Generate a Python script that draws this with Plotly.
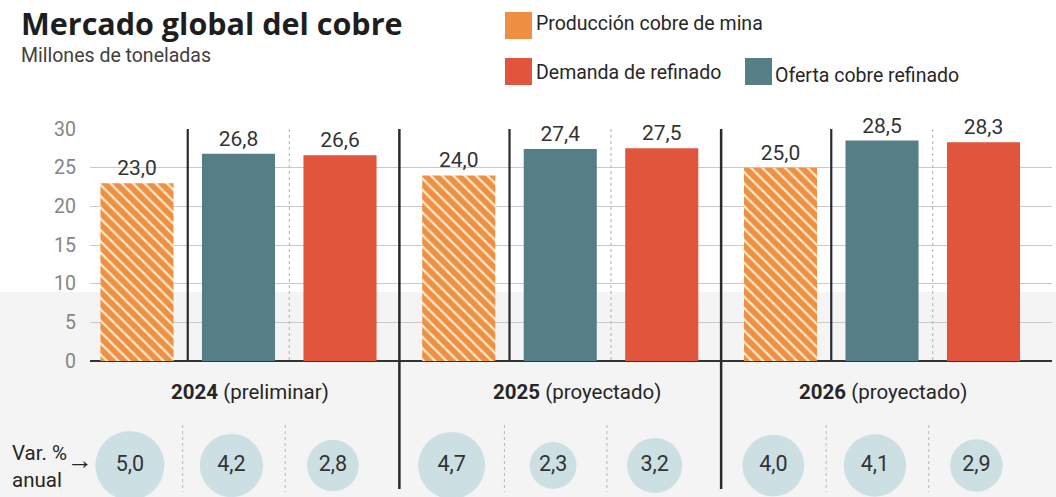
import plotly.graph_objects as go

# ---------------- data ----------------
years = ["2024", "2025", "2026"]
year_notes = ["(preliminar)", "(proyectado)", "(proyectado)"]
series_names = ["Producción cobre de mina", "Oferta cobre refinado", "Demanda de refinado"]
produccion_mina = [23.0, 24.0, 25.0]
oferta_refinado = [26.8, 27.4, 28.5]
demanda_refinado = [26.6, 27.5, 28.3]
var_produccion = [5.0, 4.7, 4.0]
var_oferta = [4.2, 2.3, 4.1]
var_demanda = [2.8, 3.2, 2.9]
y_ticks = [0, 5, 10, 15, 20, 25, 30]

# ---------------- styling ----------------
W, H = 1056, 497
FONT = "Roboto"
TITLE_FONT = "Open Sans"
ORANGE = "#ee8f44"
STRIPE = "#fde9c6"
TEAL = "#567e87"
RED = "#e0553b"
BUBBLE = "#bbd6db"
TXT = "#262626"
GROUP_STEP = 3.17
BAR_W = 0.72


def px_x(p):
    return p / W


def px_y(p):
    return 1 - p / H


def fmt(v):
    return f"{v:.1f}".replace(".", ",")


def pos(g, s):
    return g * GROUP_STEP + s


series_vals = [produccion_mina, oferta_refinado, demanda_refinado]
series_vars = [var_produccion, var_oferta, var_demanda]
colors = [ORANGE, TEAL, RED]

fig = go.Figure()

for s, (name, vals, col) in enumerate(zip(series_names, series_vals, colors)):
    marker = dict(color=col, line=dict(width=0))
    if s == 0:
        marker["pattern"] = dict(shape="\\", fgcolor=STRIPE, bgcolor=ORANGE,
                                 size=8, solidity=0.28, fillmode="replace")
    fig.add_trace(go.Bar(
        x=[pos(g, s) for g in range(len(years))], y=vals, width=BAR_W,
        marker=marker, name=name, showlegend=False,
        text=[fmt(v) for v in vals], textposition="outside",
        textfont=dict(family=FONT, size=21, color="#333333"),
        cliponaxis=False, hoverinfo="skip",
    ))

# bubbles for annual variation (area proportional to value)
bx, bv = [], []
for g in range(len(years)):
    for s in range(3):
        bx.append(pos(g, s) - 0.07)
        bv.append(series_vars[s][g])
fig.add_trace(go.Scatter(
    x=bx, y=[0.5] * len(bx), yaxis="y2", mode="markers+text",
    marker=dict(size=bv, sizemode="area", sizeref=2 * 5 / 69 ** 2, color=BUBBLE,
                line=dict(width=0)),
    text=[fmt(v) for v in bv], textposition="middle center",
    textfont=dict(family=FONT, size=21.5, color="#333333"),
    showlegend=False, hoverinfo="skip", cliponaxis=False,
))

x_min = -47 / 101.5
x_max = x_min + 962 / 101.5

fig.update_layout(
    width=W, height=H,
    margin=dict(l=0, r=0, t=0, b=0, autoexpand=False),
    paper_bgcolor="white", plot_bgcolor="rgba(0,0,0,0)",
    barmode="overlay", showlegend=False, hovermode=False,
    xaxis=dict(domain=[px_x(90), px_x(1052)], range=[x_min, x_max],
               showgrid=False, zeroline=False, showticklabels=False,
               ticks="", fixedrange=True, automargin=False),
    yaxis=dict(domain=[px_y(361), px_y(129)], range=[0, 30],
               tickvals=y_ticks, showgrid=True, gridcolor="#c9c9c9",
               gridwidth=1, zeroline=True, zerolinecolor="#333333",
               zerolinewidth=2, ticks="", ticklabelstandoff=13,
               tickfont=dict(family=FONT, size=19.5, color="#858585"),
               fixedrange=True, automargin=False),
    yaxis2=dict(domain=[0, px_y(434)], range=[0, 1], anchor="x",
                showgrid=False, zeroline=False, showticklabels=False,
                fixedrange=True, automargin=False),
)

shapes = []
# light gray lower background
shapes.append(dict(type="rect", xref="paper", yref="paper", x0=0, x1=1,
                   y0=0, y1=px_y(292), fillcolor="#f4f4f4",
                   line=dict(width=0), layer="below"))

for g in range(len(years)):
    xs = pos(g, 0.5)
    shapes.append(dict(type="line", xref="x", yref="paper", x0=xs, x1=xs,
                       y0=px_y(129), y1=px_y(361),
                       line=dict(color="#2a2a2a", width=2.2)))
    xd = pos(g, 1.5)
    shapes.append(dict(type="line", xref="x", yref="paper", x0=xd, x1=xd,
                       y0=px_y(129), y1=px_y(361),
                       line=dict(color="#b0b0b0", width=1, dash="dot")))
    for xx in (xs - 0.05, xd - 0.04):
        shapes.append(dict(type="line", xref="x", yref="paper", x0=xx, x1=xx,
                           y0=px_y(425), y1=px_y(492),
                           line=dict(color="#b8b8b8", width=1, dash="dot")))
    if g < len(years) - 1:
        xg = (pos(g, 2) + pos(g + 1, 0)) / 2
        shapes.append(dict(type="line", xref="x", yref="paper", x0=xg, x1=xg,
                           y0=px_y(129), y1=px_y(489),
                           line=dict(color="#2a2a2a", width=2.5)))


def swatch(x0, y0, size, color):
    shapes.append(dict(type="rect", xref="paper", yref="paper",
                       x0=px_x(x0), x1=px_x(x0 + size),
                       y0=px_y(y0 + size), y1=px_y(y0),
                       fillcolor=color, line=dict(width=0)))


swatch(505, 12, 27, ORANGE)
sx0, sy0, sz = 505, 12, 27
c = -sz + 3
while c < sz:
    xa = max(sx0, sy0 - c)
    xb = min(sx0 + sz, sy0 + sz - c)
    if xb > xa:
        shapes.append(dict(type="line", xref="paper", yref="paper",
                           x0=px_x(xa), y0=px_y(xa + c),
                           x1=px_x(xb), y1=px_y(xb + c),
                           line=dict(color=STRIPE, width=2.2)))
    c += 8
swatch(505, 58, 27, RED)
swatch(745, 58, 27, TEAL)

fig.update_layout(shapes=shapes)

ann = []


def text_at(text, x, y, size, color=TXT, family=FONT, anchor="left", xref="paper"):
    ann.append(dict(text=text, x=x, y=y, xref=xref, yref="paper",
                    xanchor=anchor, yanchor="middle", align="left",
                    showarrow=False, font=dict(family=family, size=size, color=color)))


text_at("<b>Mercado global del cobre</b>", px_x(19), px_y(22.5), 30.5, "#1e1e1e", TITLE_FONT)
text_at("Millones de toneladas", px_x(19), px_y(56), 19.5, "#404040")
text_at(series_names[0], px_x(534), px_y(24), 19.5)
text_at(series_names[2], px_x(534), px_y(72), 19.5)
text_at(series_names[1], px_x(773), px_y(75), 19.5)

label_offsets = [0.11, 0.16, 0.01]
for g, (yr, note) in enumerate(zip(years, year_notes)):
    text_at(f"<b>{yr}</b> {note}", pos(g, 1) + label_offsets[g], px_y(392), 20.5,
            anchor="center", xref="x")

text_at("Var. %<br>anual", px_x(10), px_y(466), 20.5)
text_at("→", px_x(65), px_y(460), 26)

fig.update_layout(annotations=ann)

fig.write_html("out.html", config={"displayModeBar": False, "staticPlot": True},
               post_script="document.body.style.margin='0px';")
